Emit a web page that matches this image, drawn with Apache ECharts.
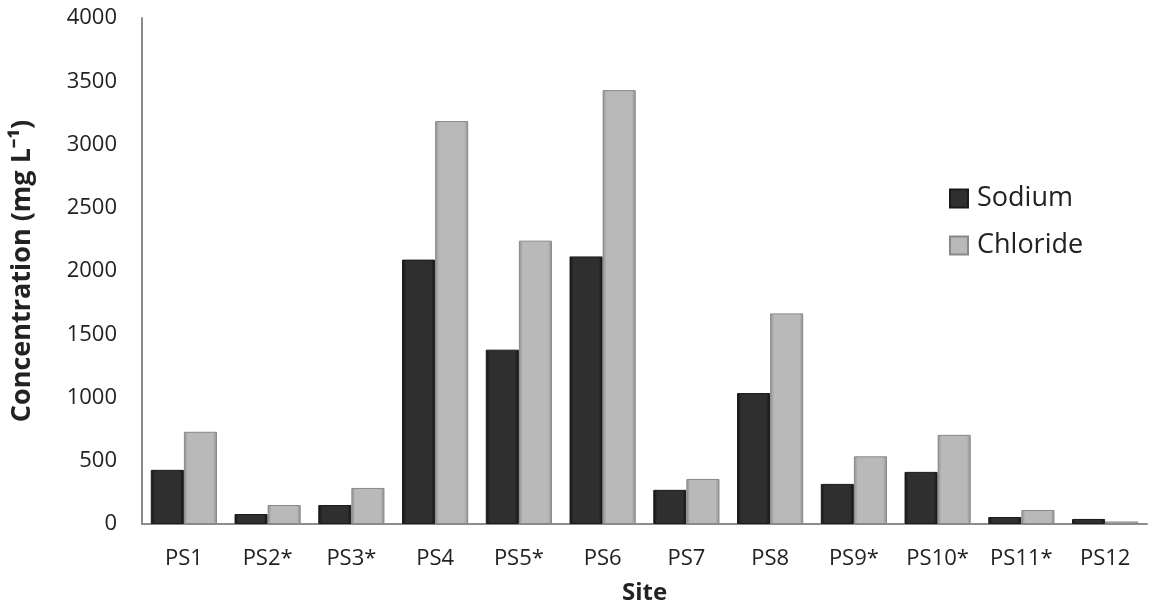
<!DOCTYPE html>
<html>
<head>
<meta charset="utf-8">
<script src="https://cdn.jsdelivr.net/npm/echarts@6/dist/echarts.min.js"></script>
<style>html,body{margin:0;padding:0;background:#fff}#c{width:1150px;height:606px}</style>
</head>
<body>
<div id="c"></div>
<script>
var categories = ['PS1','PS2*','PS3*','PS4','PS5*','PS6','PS7','PS8','PS9*','PS10*','PS11*','PS12'];
var sodium = [428, 79, 150, 2090, 1378, 2115, 270, 1035, 317, 412, 55, 40];
var chloride = [729, 150, 285, 3185, 2240, 3430, 356, 1665, 535, 705, 111, 20];
var yTicks = [0, 500, 1000, 1500, 2000, 2500, 3000, 3500, 4000];

var FONT = 'Open Sans';
var chart = echarts.init(document.getElementById('c'));
function grad(edge, mid) {
  return new echarts.graphic.LinearGradient(0, 0, 1, 0, [
    {offset: 0, color: edge}, {offset: 0.12, color: mid}, {offset: 0.88, color: mid}, {offset: 1, color: edge}
  ]);
}
chart.setOption({
  animation: false,
  textStyle: {fontFamily: FONT},
  grid: {left: 142, right: 3, top: 18, bottom: 82, containLabel: false, outerBoundsMode: 'none'},
  legend: {
    orient: 'vertical', left: 944, top: 180, itemWidth: 18, itemHeight: 18, itemGap: 20,
    icon: 'rect',
    textStyle: {fontSize: 27, color: '#222', fontFamily: FONT, padding: [0, 0, 0, 4]},
    data: ['Sodium', 'Chloride']
  },
  xAxis: {
    type: 'category', data: categories,
    name: 'Site', nameLocation: 'middle', nameGap: 57,
    nameTextStyle: {fontSize: 24, fontWeight: 'bold', color: '#222'},
    axisLine: {lineStyle: {color: '#8c8c8c', width: 2}},
    axisTick: {show: false},
    axisLabel: {fontSize: 22, color: '#222', margin: 24}
  },
  yAxis: {
    type: 'value', min: yTicks[0], max: yTicks[yTicks.length - 1], interval: 500,
    name: 'Concentration (mg L\u207B\u00B9)', nameLocation: 'middle', nameGap: 106, nameRotate: 90,
    nameTextStyle: {fontSize: 27, fontWeight: 'bold', color: '#222'},
    axisLine: {show: true, lineStyle: {color: '#8c8c8c', width: 2}},
    axisTick: {show: false},
    splitLine: {show: false},
    axisLabel: {fontSize: 22, color: '#222', margin: 25, align: 'right',
                formatter: function (v) { return String(v); }}
  },
  series: [
    {name: 'Sodium', type: 'bar', data: sodium, barGap: '0%', barCategoryGap: '21%',
     itemStyle: {color: grad('#111', '#2f2f2f'), borderColor: '#1a1a1a', borderWidth: 1}},
    {name: 'Chloride', type: 'bar', data: chloride, barGap: '0%', barCategoryGap: '21%',
     itemStyle: {color: grad('#8f8f8f', '#b9b9b9'), borderColor: '#888', borderWidth: 1}}
  ]
});
</script>
</body>
</html>
